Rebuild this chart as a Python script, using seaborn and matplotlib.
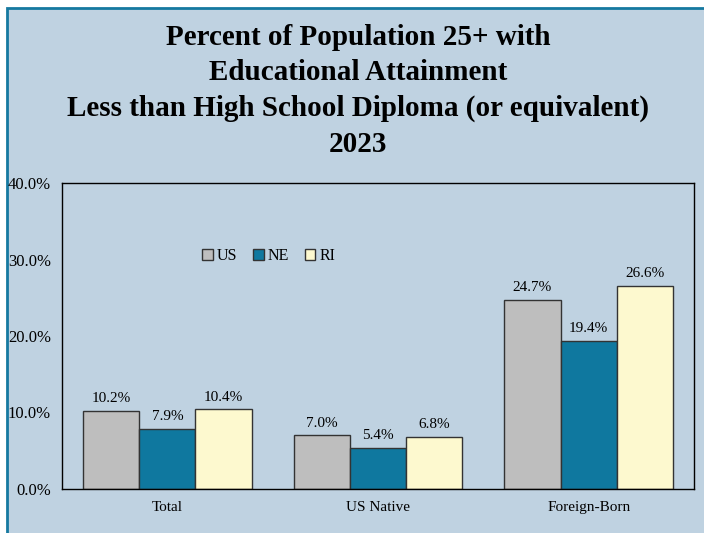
import matplotlib
matplotlib.use("Agg")
import matplotlib.pyplot as plt
from matplotlib.patches import Rectangle
import seaborn as sns
import pandas as pd

categories = ["Total", "US Native", "Foreign-Born"]
us_values = [10.2, 7.0, 24.7]
ne_values = [7.9, 5.4, 19.4]
ri_values = [10.4, 6.8, 26.6]
series = ["US", "NE", "RI"]
colors = ["#bebebe", "#0f789f", "#fdf9cf"]
yticks = [0, 10, 20, 30, 40]

df = pd.DataFrame({
    "cat": categories * 3,
    "series": ["US"] * 3 + ["NE"] * 3 + ["RI"] * 3,
    "val": us_values + ne_values + ri_values,
})

panel = "#bfd2e1"
W, H = 704, 533

sns.set_style("white")
plt.rcParams["font.family"] = ["Liberation Serif", "DejaVu Serif"]
plt.rcParams["text.color"] = "black"
plt.rcParams["xtick.color"] = "black"
plt.rcParams["ytick.color"] = "black"

fig = plt.figure(figsize=(W / 100, H / 100), dpi=100)
fig.patch.set_facecolor("white")
fig.patches.append(Rectangle((7 / W, -0.1), 1.0, (H - 8) / H + 0.1,
                             transform=fig.transFigure, facecolor=panel,
                             edgecolor="#1679a0", linewidth=2.0, zorder=-10))

ax = fig.add_axes([62 / W, 44 / H, 632 / W, 306 / H])
ax.set_facecolor(panel)
sns.barplot(data=df, x="cat", y="val", hue="series", hue_order=series,
            palette=colors, width=0.8, edgecolor="#333333", linewidth=1.0,
            saturation=1, ax=ax)

for cont in ax.containers:
    ax.bar_label(cont, labels=[f"{v:.1f}%" for v in cont.datavalues],
                 padding=4, fontsize=11, color="black")

ax.set_ylim(0, 40)
ax.set_yticks(yticks)
ax.set_yticklabels([f"{t:.1f}%" for t in yticks], fontsize=12)
ax.tick_params(axis="y", length=0, pad=8)
ax.tick_params(axis="x", length=0, pad=8.5, labelsize=11)
ax.set_xlabel("")
ax.set_ylabel("")
for s in ax.spines.values():
    s.set_color("black")
    s.set_linewidth(1.0)

ax.legend(ncol=3, loc="upper left", bbox_to_anchor=(0.212, 0.808), frameon=False,
          fontsize=11.5, handlelength=0.65, handleheight=0.65, handletextpad=0.25,
          columnspacing=1.0, borderaxespad=0)

fig.text(358 / W, 1 - 24 / H,
         "Percent of Population 25+ with\nEducational Attainment\n"
         "Less than High School Diploma (or equivalent)\n2023",
         ha="center", va="top", fontsize=21, fontweight="bold",
         linespacing=1.4, color="black")

fig.savefig("out.png", dpi=100)
